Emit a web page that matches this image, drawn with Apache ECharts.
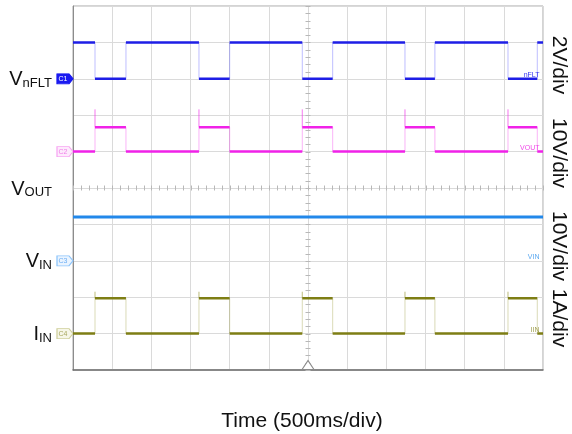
<!DOCTYPE html>
<html>
<head>
<meta charset="utf-8">
<script src="https://cdn.jsdelivr.net/npm/echarts@6/dist/echarts.min.js"></script>
<style>
  html, body { margin: 0; padding: 0; background: #fff; }
  #chart { width: 572px; height: 434px; }
</style>
</head>
<body>
<div id="chart"></div>
<script>
// Time window: 12 divisions at 500 ms/div, centred on the trigger (seconds)
const timeMin = -3;
const timeMax = 3;
const timePerDiv = 0.5;

// nFLT edge times (s): falling edges start each fault interval, rising edges end it
const nfltFall = [-2.719, -1.392, -0.073, 1.238, 2.553];
const nfltRise = [-2.324, -1.000, 0.315, 1.620, 2.927];

// Channel levels in physical units
const nfltLevels = { high: 2.0, low: 0.0 };          // V
const voutLevels = { off: 0.0, on: 6.7, spike: 11.6 }; // V
const vinLevel = 12.0;                                 // V
const iinLevels = { off: 0.0, on: 0.97, spike: 1.15 }; // A

// Channel settings: volts (or amps) per division and ground marker position in divisions
const channelNames = ['nFLT', 'VOUT', 'VIN', 'IIN'];
const channelScale = [2, 10, 10, 1];
const channelRef = [3, 1, -2, -4];
const scaleText = ['2V/div', '10V/div', '10V/div', '1A/div'];

const font = 'Arial, "Liberation Sans", sans-serif';

// Thick horizontal runs of a two-level trace, broken at every edge
function levelRuns(outside, inside) {
  const pts = [];
  let t0 = timeMin;
  for (let i = 0; i < nfltFall.length; i++) {
    pts.push([t0, outside], [nfltFall[i], outside], [nfltFall[i], '-']);
    pts.push([nfltFall[i], inside], [nfltRise[i], inside], [nfltRise[i], '-']);
    t0 = nfltRise[i];
  }
  pts.push([t0, outside], [timeMax, outside]);
  return pts;
}

// Faint vertical transitions, with an optional overshoot on the leading edge
function edgeLines(outside, inside, spike) {
  const pts = [];
  for (let i = 0; i < nfltFall.length; i++) {
    const a = nfltFall[i];
    if (spike !== undefined) pts.push([a, outside], [a, spike], [a, inside], [a, '-']);
    else pts.push([a, outside], [a, inside], [a, '-']);
    pts.push([nfltRise[i], inside], [nfltRise[i], outside], [nfltRise[i], '-']);
  }
  return pts;
}

// One hidden value axis per channel so each trace is plotted in its own units
function channelAxis(k) {
  return {
    type: 'value',
    min: (-5 - channelRef[k]) * channelScale[k],
    max: (5 - channelRef[k]) * channelScale[k],
    show: false
  };
}

function tag(label, fill, stroke, text) {
  return {
    symbol: 'path://M0,0 L12,0 L16,5 L12,10 L0,10 Z',
    symbolSize: [16, 10],
    symbolOffset: [-8, 0],
    itemStyle: { color: fill, borderColor: stroke, borderWidth: 1 },
    label: { show: true, formatter: label, color: text, fontSize: 7, fontFamily: font, offset: [-2, 0] },
    silent: true
  };
}

function traceSeries(k, name, color, edgeColor, width, runs, edges, tagStyle, smallColor) {
  const out = [{
    name: name,
    type: 'line',
    yAxisIndex: k + 1,
    data: runs,
    showSymbol: false,
    symbol: 'none',
    connectNulls: false,
    lineStyle: { color: color, width: width },
    z: 5,
    animation: false,
    markPoint: {
      animation: false,
      silent: true,
      data: [
        Object.assign({ coord: [timeMin, 0] }, tagStyle),
        {
          coord: [timeMax, 0],
          symbol: 'circle',
          symbolSize: 1,
          itemStyle: { color: 'rgba(0,0,0,0)' },
          label: {
            show: true, formatter: channelNames[k], color: smallColor, fontSize: 7,
            fontFamily: font, position: 'left', distance: 2, offset: [-1, -4]
          }
        }
      ]
    }
  }];
  if (edges) {
    out.push({
      name: name + ' edges',
      type: 'line',
      yAxisIndex: k + 1,
      data: edges,
      showSymbol: false,
      symbol: 'none',
      connectNulls: false,
      lineStyle: { color: edgeColor, width: 1 },
      z: 4,
      animation: false
    });
  }
  return out;
}

const leftLabels = { '3': '{v|V}{s|nFLT}', '0': '{v|V}{s|OUT}', '-2': '{v|V}{s|IN}', '-4': '{v|I}{s|IN}' };

const chart = echarts.init(document.getElementById('chart'));

const series = [].concat(
  traceSeries(0, 'nFLT', '#1e1ee6', 'rgba(70,70,255,0.35)', 2.5,
    levelRuns(nfltLevels.high, nfltLevels.low),
    edgeLines(nfltLevels.high, nfltLevels.low),
    tag('C1', '#1a1af0', '#1a1af0', '#ffffff'), '#3535f0'),
  traceSeries(1, 'VOUT', '#f022e8', 'rgba(240,40,232,0.35)', 2.5,
    levelRuns(voutLevels.off, voutLevels.on),
    edgeLines(voutLevels.off, voutLevels.on, voutLevels.spike),
    tag('C2', '#fdeafc', '#f7a6f2', '#f07ee8'), '#f048e8'),
  traceSeries(2, 'VIN', '#2288ea', null, 3,
    [[timeMin, vinLevel], [timeMax, vinLevel]],
    null,
    tag('C3', '#eaf4ff', '#8cc4fb', '#6aaef5'), '#5aa8f0'),
  traceSeries(3, 'IIN', '#7e7e14', 'rgba(150,150,50,0.35)', 2.5,
    levelRuns(iinLevels.off, iinLevels.on),
    edgeLines(iinLevels.off, iinLevels.on, iinLevels.spike),
    tag('C4', '#f6f6e8', '#cfcf9c', '#a8a860'), '#a0a050'),
  [{
    // Minor division ticks along the centre cross
    name: 'graticule',
    type: 'custom',
    yAxisIndex: 0,
    data: [[0, 0]],
    silent: true,
    z: 1,
    animation: false,
    renderItem: function (params, api) {
      const children = [];
      const style = { stroke: '#b8b8b8', lineWidth: 1 };
      for (let i = 0; i <= 60; i++) {
        const t = timeMin + i * timePerDiv / 5;
        const p = api.coord([t, 0]);
        const x = Math.round(p[0]) + 0.5;
        children.push({ type: 'line', shape: { x1: x, y1: p[1] - 2.5, x2: x, y2: p[1] + 2.5 }, style: style });
      }
      for (let j = 0; j <= 50; j++) {
        const d = -5 + j * 0.2;
        const p = api.coord([0, d]);
        const y = Math.round(p[1]) + 0.5;
        children.push({ type: 'line', shape: { x1: p[0] - 2.5, y1: y, x2: p[0] + 2.5, y2: y }, style: style });
      }
      return { type: 'group', children: children };
    }
  }, {
    // Trigger position marker
    name: 'trigger',
    type: 'line',
    yAxisIndex: 0,
    data: [],
    animation: false,
    markPoint: {
      animation: false,
      silent: true,
      data: [{
        coord: [0, -5],
        symbol: 'triangle',
        symbolSize: [12, 9],
        symbolOffset: [0, -5],
        itemStyle: { color: '#ffffff', borderColor: '#8a8a8a', borderWidth: 1 },
        label: { show: false }
      }]
    }
  }]
);

chart.setOption({
  animation: false,
  backgroundColor: '#ffffff',
  grid: {
    left: 73, top: 6, width: 470, height: 364,
    show: true, borderColor: '#a8a8a8', borderWidth: 1, backgroundColor: 'transparent'
  },
  xAxis: {
    type: 'value',
    min: timeMin,
    max: timeMax,
    interval: timePerDiv,
    axisLine: { onZero: false, lineStyle: { color: '#6e6e6e', width: 1.5 } },
    axisTick: { show: false },
    axisLabel: { show: false },
    splitLine: { show: true, lineStyle: { color: '#dadada', width: 1 } }
  },
  yAxis: [{
    type: 'value',
    min: -5,
    max: 5,
    interval: 1,
    axisLine: { show: true, onZero: false, lineStyle: { color: '#8c8c8c', width: 1 } },
    axisTick: { show: false },
    splitLine: { show: true, lineStyle: { color: '#dadada', width: 1 } },
    axisLabel: {
      show: true,
      margin: 21,
      hideOverlap: false,
      formatter: function (v) { return leftLabels[String(v)] || ''; },
      rich: {
        v: { fontSize: 20, fontFamily: font, color: '#111', lineHeight: 22, verticalAlign: 'bottom' },
        s: { fontSize: 13, fontFamily: font, color: '#111', lineHeight: 14, verticalAlign: 'bottom' }
      }
    }
  }, channelAxis(0), channelAxis(1), channelAxis(2), channelAxis(3)],
  series: series,
  graphic: [
    { type: 'text', x: 559, y: 65, rotation: -Math.PI / 2, style: { text: scaleText[0], font: '21px ' + font, fill: '#111', align: 'center', verticalAlign: 'middle' } },
    { type: 'text', x: 559, y: 153, rotation: -Math.PI / 2, style: { text: scaleText[1], font: '21px ' + font, fill: '#111', align: 'center', verticalAlign: 'middle' } },
    { type: 'text', x: 559, y: 246, rotation: -Math.PI / 2, style: { text: scaleText[2], font: '21px ' + font, fill: '#111', align: 'center', verticalAlign: 'middle' } },
    { type: 'text', x: 559, y: 318, rotation: -Math.PI / 2, style: { text: scaleText[3], font: '21px ' + font, fill: '#111', align: 'center', verticalAlign: 'middle' } },
    { type: 'text', x: 302, y: 421, style: { text: 'Time (500ms/div)', font: '21px ' + font, fill: '#111', align: 'center', verticalAlign: 'middle' } }
  ]
});
</script>
</body>
</html>
